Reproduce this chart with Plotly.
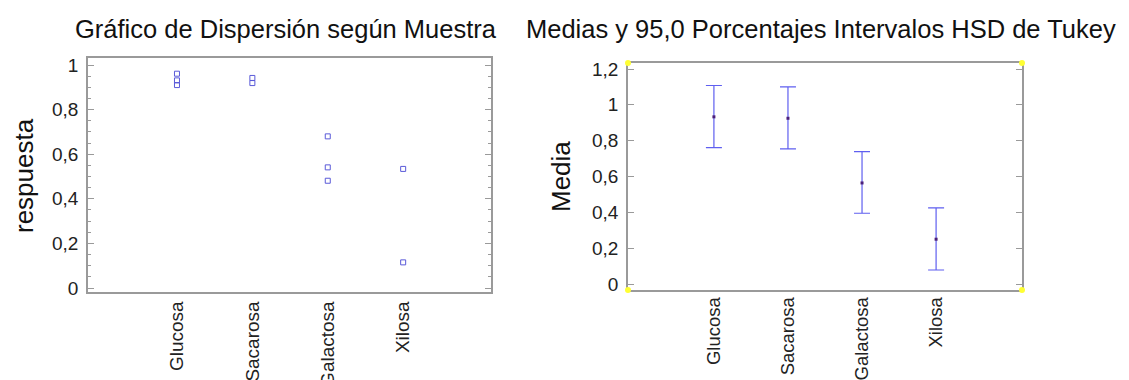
import plotly.graph_objects as go

# ---- data ----
categories = ["Glucosa", "Sacarosa", "Galactosa", "Xilosa"]

# scatter (left panel): observations per sample
scatter_cat = ["Glucosa", "Glucosa", "Glucosa",
               "Sacarosa", "Sacarosa",
               "Galactosa", "Galactosa", "Galactosa",
               "Xilosa", "Xilosa"]
scatter_val = [0.961, 0.931, 0.910,
               0.942, 0.919,
               0.680, 0.541, 0.481,
               0.534, 0.115]

# means and Tukey HSD intervals (right panel)
means = [0.933, 0.925, 0.564, 0.250]
upper = [1.108, 1.100, 0.739, 0.425]
lower = [0.761, 0.754, 0.395, 0.078]

left_title = "Gráfico de Dispersión según Muestra"
right_title = "Medias y 95,0 Porcentajes Intervalos HSD de Tukey"
left_ylabel = "respuesta"
right_ylabel = "Media"
y_ticks_vals = [0, 0.2, 0.4, 0.6, 0.8, 1.0, 1.2]
y_ticks_text = ["0", "0,2", "0,4", "0,6", "0,8", "1", "1,2"]

W, H = 1129, 380
FONT = "Liberation Sans, Arial, sans-serif"
FRAME = "#9a9a9a"

cat_idx = {c: i for i, c in enumerate(categories)}

fig = go.Figure()

fig.add_trace(go.Scatter(
    x=[cat_idx[c] for c in scatter_cat], y=scatter_val,
    mode="markers",
    marker=dict(symbol="square-open", size=5, color="#5a5ad8", line=dict(width=1, color="#5a5ad8")),
    xaxis="x", yaxis="y", showlegend=False, hoverinfo="skip",
))

fig.add_trace(go.Scatter(
    x=list(range(len(categories))), y=means,
    mode="markers",
    marker=dict(symbol="square", size=3, color="#4b1f7a"),
    error_y=dict(type="data", symmetric=False,
                 array=[u - m for u, m in zip(upper, means)],
                 arrayminus=[m - l for m, l in zip(means, lower)],
                 color="#5f5ff0", thickness=1.2, width=8),
    xaxis="x2", yaxis="y2", showlegend=False, hoverinfo="skip",
))

def px_x(p):
    return p / W

def px_y(p):
    return 1 - p / H

# panel geometry (pixels)
L0, L1, LT, LB = 88, 491, 58, 292
R0, R1, RT, RB = 628, 1022, 63, 290

common_x = dict(
    tickmode="array",
    tickvals=list(range(len(categories))),
    ticktext=categories,
    tickangle=-90,
    ticks="",
    showgrid=False, zeroline=False, automargin=False,
    showline=True, linecolor=FRAME, linewidth=1.5, mirror=True,
)

yfont = dict(family=FONT, size=19, color="#222")

fig.update_layout(
    width=W, height=H,
    margin=dict(l=0, r=0, t=0, b=0, autoexpand=False),
    paper_bgcolor="white", plot_bgcolor="white",
    xaxis=dict(domain=[px_x(L0), px_x(L1)], range=[-1.18, 4.165],
               anchor="y", ticklabelstandoff=0,
               tickfont=dict(family=FONT, size=19, color="#222"), **common_x),
    yaxis=dict(domain=[px_y(LB), px_y(LT)], range=[-0.0179, 1.0314],
               anchor="x", automargin=False,
               tickmode="array", tickvals=y_ticks_vals[:6], ticktext=y_ticks_text[:6],
               ticks="inside", ticklen=6, tickcolor=FRAME, tickwidth=1.2,
               minor=dict(dtick=0.05, ticks="inside", ticklen=3.5, tickcolor=FRAME, tickwidth=1.2),
               showgrid=False, zeroline=False,
               showline=True, linecolor=FRAME, linewidth=1.5, mirror="allticks",
               tickfont=yfont, ticklabelstandoff=4),
    xaxis2=dict(domain=[px_x(R0), px_x(R1)], range=[-1.16, 4.16],
                anchor="y2", ticklabelstandoff=-2,
                tickfont=dict(family=FONT, size=18.5, color="#222"), **common_x),
    yaxis2=dict(domain=[px_y(RB), px_y(RT)], range=[-0.0335, 1.2335],
                anchor="x2", automargin=False,
                tickmode="array", tickvals=y_ticks_vals, ticktext=y_ticks_text,
                ticks="inside", ticklen=6, tickcolor=FRAME, tickwidth=1.2,
                showgrid=False, zeroline=False,
                showline=True, linecolor=FRAME, linewidth=1.5, mirror="allticks",
                tickfont=yfont, ticklabelstandoff=4),
)

annotations = [
    dict(text=left_title, x=px_x(286), y=px_y(29), xref="paper", yref="paper",
         xanchor="center", yanchor="middle", showarrow=False,
         font=dict(family=FONT, size=25.5, color="#111")),
    dict(text=right_title, x=px_x(820.5), y=px_y(29), xref="paper", yref="paper",
         xanchor="center", yanchor="middle", showarrow=False,
         font=dict(family=FONT, size=25.5, color="#111")),
    dict(text=left_ylabel, x=px_x(24), y=px_y(176), xref="paper", yref="paper",
         xanchor="center", yanchor="middle", showarrow=False, textangle=-90,
         font=dict(family=FONT, size=26, color="#111")),
    dict(text=right_ylabel, x=px_x(561), y=px_y(177), xref="paper", yref="paper",
         xanchor="center", yanchor="middle", showarrow=False, textangle=-90,
         font=dict(family=FONT, size=26, color="#111")),
]
fig.update_layout(annotations=annotations)

# yellow selection handles at the corners of the right panel
shapes = []
for xa in (0, 1):
    for ya in (0, 1):
        shapes.append(dict(type="circle", xref="x2 domain", yref="y2 domain",
                           xsizemode="pixel", ysizemode="pixel",
                           xanchor=xa, yanchor=ya,
                           x0=-3, x1=3, y0=-3, y1=3,
                           fillcolor="#ffff33", line=dict(width=0)))
fig.update_layout(shapes=shapes)

fig.write_html("out.html")
